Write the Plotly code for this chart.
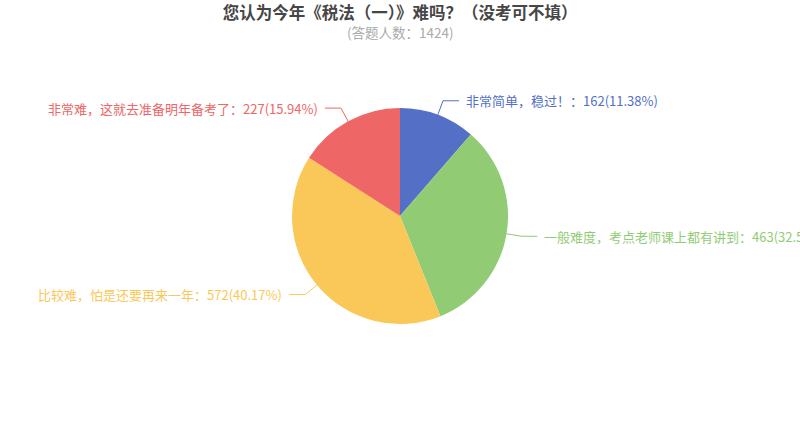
import numpy as np
import plotly.graph_objects as go

# Data
labels = ["非常简单，稳过！", "一般难度，考点老师课上都有讲到", "比较难，怕是还要再来一年", "非常难，这就去准备明年备考了"]
counts = [162, 463, 572, 227]
colors = ["#5470c6", "#91cc75", "#fac858", "#ee6666"]
total = 1424

W, H = 800, 432
cx, cy, r = 400, 216, 108   # pie centre and radius in pixels
len1, len2, gap = 15, 16, 5  # leader line segments


def px2paper(x, y):
    return x / W, 1 - y / H


fig = go.Figure()
x0, y1 = px2paper(cx - r, cy - r)
x1, y0 = px2paper(cx + r, cy + r)
fig.add_trace(go.Pie(
    labels=labels, values=counts, sort=False, direction="clockwise",
    marker=dict(colors=colors, line=dict(width=0)),
    textinfo="none", hoverinfo="label+value+percent", showlegend=False,
    domain=dict(x=[x0, x1], y=[y0, y1]),
))

# leader lines + labels, placed from each slice's mid angle
vals = np.array(counts, dtype=float)
frac = vals / vals.sum()
mid = (np.cumsum(frac) - frac / 2) * 2 * np.pi

for lab, c, f, a, col in zip(labels, counts, frac, mid, colors):
    sx, sy = cx + r * np.sin(a), cy - r * np.cos(a)
    ex, ey = cx + (r + len1) * np.sin(a), cy - (r + len1) * np.cos(a)
    side = 1 if np.sin(a) >= 0 else -1
    tx = ex + side * len2
    pts = [px2paper(sx, sy), px2paper(ex, ey), px2paper(tx, ey)]
    path = "M {} {} L {} {} L {} {}".format(*[v for p in pts for v in p])
    fig.add_shape(type="path", path=path, xref="paper", yref="paper",
                  line=dict(color=col, width=1))
    ax, ay = px2paper(tx + side * gap, ey)
    fig.add_annotation(
        x=ax, y=ay, xref="paper", yref="paper", showarrow=False,
        text="{}：{}({:.2f}%)".format(lab, c, f * 100),
        xanchor="left" if side > 0 else "right", yanchor="middle",
        font=dict(size=13, color=col),
    )

sx_, sy_ = px2paper(400, 32)
fig.add_annotation(
    x=sx_, y=sy_, xref="paper", yref="paper", showarrow=False,
    text="(答题人数：{})".format(total), yanchor="middle",
    font=dict(size=13.5, color="#aaaaaa"),
)

tx_, ty_ = px2paper(400, 13)
fig.update_layout(
    width=W, height=H,
    margin=dict(l=0, r=0, t=0, b=0),
    paper_bgcolor="white", plot_bgcolor="white",
    font=dict(family="Noto Sans CJK SC, Microsoft YaHei, sans-serif"),
    title=dict(text="<b>您认为今年《税法（一）》难吗？（没考可不填）</b>",
               x=tx_, xanchor="center", y=ty_, yanchor="middle",
               font=dict(size=16.5, color="#464646")),
)

# no page margin, so the figure fills the window like the original
fig.write_html("out.html", config={"displayModeBar": False},
               post_script="document.body.style.margin='0';")
